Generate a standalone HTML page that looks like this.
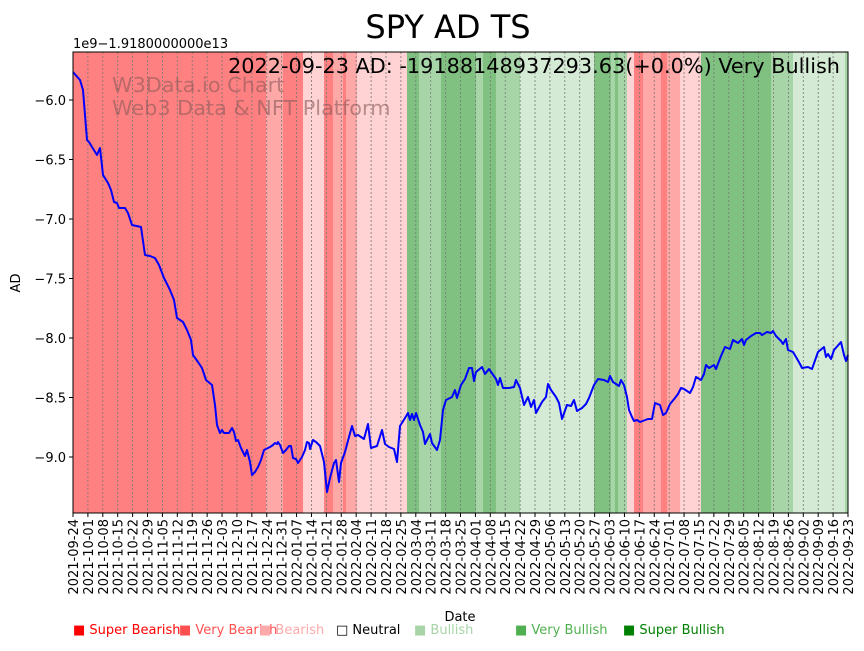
<!DOCTYPE html>
<html><head><meta charset="utf-8"><style>
body{margin:0;background:#fff;width:864px;height:646px;overflow:hidden;font-family:"Liberation Sans","DejaVu Sans",sans-serif}
</style></head><body>
<svg id="s" width="864" height="646" xmlns="http://www.w3.org/2000/svg" font-family="DejaVu Sans, Liberation Sans, sans-serif">
<g id="bands"></g>
<g id="grid"></g>
<polyline id="line" fill="none" stroke="#0000ff" stroke-width="2" stroke-linejoin="round"/>
<text x="112" y="92" font-size="20.8" fill="#8b5a5a" fill-opacity="0.6">W3Data.io Chart</text>
<text x="112" y="115" font-size="20.8" fill="#8b5a5a" fill-opacity="0.6">Web3 Data &amp; NFT Platform</text>
<text x="840" y="73" font-size="20.8" text-anchor="end" fill="#000">2022-09-23 AD: -19188148937293.63(+0.0%) Very Bullish</text>
<rect x="73" y="52" width="775" height="461" fill="none" stroke="#000" stroke-width="1"/>
<g id="ticks"></g>
<text x="448" y="38" font-size="32" text-anchor="middle">SPY AD TS</text>
<text x="73" y="48" font-size="13">1e9−1.9180000000e13</text>
<text x="20" y="283" font-size="13" text-anchor="middle" transform="rotate(-90 20 283)">AD</text>
<text x="460" y="621" font-size="13" text-anchor="middle">Date</text>
<g font-size="13">
<text x="73" y="634" fill="#ff0000">■ Super Bearish</text>
<text x="179" y="634" fill="#ff5050">■ Very Bearish</text>
<text x="259" y="634" fill="#ffaaaa">■ Bearish</text>
<text x="336" y="634" fill="#000">□ Neutral</text>
<text x="414" y="634" fill="#a8d5a8">■ Bullish</text>
<text x="515" y="634" fill="#50b050">■ Very Bullish</text>
<text x="623" y="634" fill="#008000">■ Super Bullish</text>
</g>
</svg>
<script>
const NS="http://www.w3.org/2000/svg";
function el(t,a,p){const e=document.createElementNS(NS,t);for(const k in a)e.setAttribute(k,a[k]);document.getElementById(p).appendChild(e);return e;}
const C={V:"#ff8080",M:"#ffa8a8",L:"#ffd3d3",G:"#80c080",g:"#a8d5a8",l:"#d4ead4"};
const B=[[73,266,"V"],[266,283,"M"],[283,303,"V"],[303,324,"L"],[324,333,"V"],[333,343,"M"],[343,346,"V"],[346,357,"M"],[357,407,"L"],[407,419,"G"],[419,441,"g"],[441,476,"G"],[476,483,"g"],[483,496,"G"],[496,520,"g"],[520,594,"l"],[594,611,"G"],[611,615,"g"],[615,618,"G"],[618,627,"g"],[627,634,"L"],[634,643,"V"],[643,661,"M"],[661,667,"V"],[667,680,"M"],[680,701,"L"],[701,771,"G"],[771,793,"g"],[793,845,"l"],[845,848,"g"]];
B.forEach(b=>el("rect",{x:b[0],y:52,width:b[1]-b[0],height:461,fill:C[b[2]]},"bands"));
let d=new Date(Date.UTC(2021,8,24));
for(let i=0;i<53;i++){const x=73+i*775/52;
el("line",{x1:x,x2:x,y1:52,y2:513,stroke:"#777","stroke-width":0.8,"stroke-dasharray":"2,2"},"grid");
el("line",{x1:x,x2:x,y1:513,y2:517,stroke:"#000"},"ticks");
const s=d.toISOString().slice(0,10);const t=el("text",{x:x+5,y:519,"font-size":13,"text-anchor":"end",transform:`rotate(-90 ${x+5} 519)`},"ticks");t.textContent=s;
d=new Date(d.getTime()+7*864e5);}
[["-6.0",100],["-6.5",159.5],["-7.0",219],["-7.5",278.5],["-8.0",338],["-8.5",397.5],["-9.0",457]].forEach(v=>{
el("line",{x1:69,x2:73,y1:v[1],y2:v[1],stroke:"#000"},"ticks");
const t=el("text",{x:66,y:v[1]+5,"font-size":13,"text-anchor":"end"},"ticks");t.textContent=v[0].replace("-","−");});
const P=[[73,72],[80,80],[83,90],[87,140],[89,142],[92,147],[97,155],[100,148],[103,175],[108,183],[111,190],[114,202],[117,203],[119,208],[125,208],[128,213],[132,225],[141,227],[145,255],[150,256],[155,258],[159,265],[164,278],[170,290],[174,300],[177,318],[183,322],[187,330],[191,340],[193,355],[198,362],[202,368],[206,380],[212,385],[215,405],[217,425],[220,433],[222,430],[224,433],[229,433],[232,428],[234,432],[236,441],[238,440],[241,448],[245,456],[247,450],[250,462],[252,475],[255,472],[258,467],[261,460],[264,450],[266,449],[270,447],[273,445],[275,443],[277,444],[278,442],[280,445],[283,453],[286,450],[289,446],[291,446],[293,458],[296,459],[298,463],[302,457],[305,450],[307,442],[309,443],[310,449],[313,440],[316,442],[320,446],[324,462],[327,492],[330,478],[334,463],[336,460],[339,482],[341,463],[345,452],[349,437],[352,426],[355,436],[358,435],[364,439],[368,424],[371,448],[377,446],[382,430],[385,444],[389,447],[394,449],[397,462],[400,426],[405,418],[408,413],[410,420],[412,414],[414,420],[416,413],[420,425],[423,432],[425,444],[430,434],[432,443],[437,450],[440,440],[443,410],[446,400],[452,397],[455,390],[457,398],[461,385],[465,379],[469,368],[472,368],[474,381],[476,372],[482,367],[485,374],[489,369],[496,379],[498,385],[500,378],[503,388],[509,388],[514,387],[516,380],[520,388],[524,405],[528,397],[531,407],[534,400],[536,413],[542,402],[546,397],[548,384],[551,390],[556,397],[559,403],[562,419],[567,405],[571,406],[574,400],[577,411],[582,408],[586,404],[589,398],[594,385],[598,379],[604,380],[608,382],[610,376],[613,382],[619,386],[621,380],[624,385],[627,397],[629,410],[632,417],[634,421],[637,420],[640,422],[648,419],[652,419],[655,403],[660,405],[663,415],[666,413],[670,404],[675,398],[678,394],[681,388],[684,389],[690,393],[693,387],[696,377],[701,380],[704,374],[706,365],[709,368],[714,365],[716,369],[721,356],[725,347],[730,349],[733,340],[738,343],[742,339],[744,345],[746,340],[751,336],[756,333],[760,333],[762,335],[767,332],[771,333],[773,331],[776,336],[781,341],[783,344],[786,339],[788,350],[793,352],[796,357],[800,364],[802,368],[808,367],[812,369],[818,352],[824,347],[826,357],[828,354],[831,359],[834,350],[841,342],[844,355],[846,361],[848,355]];
document.getElementById("line").setAttribute("points",P.map(p=>p.join(",")).join(" "));
</script>
</body></html>
